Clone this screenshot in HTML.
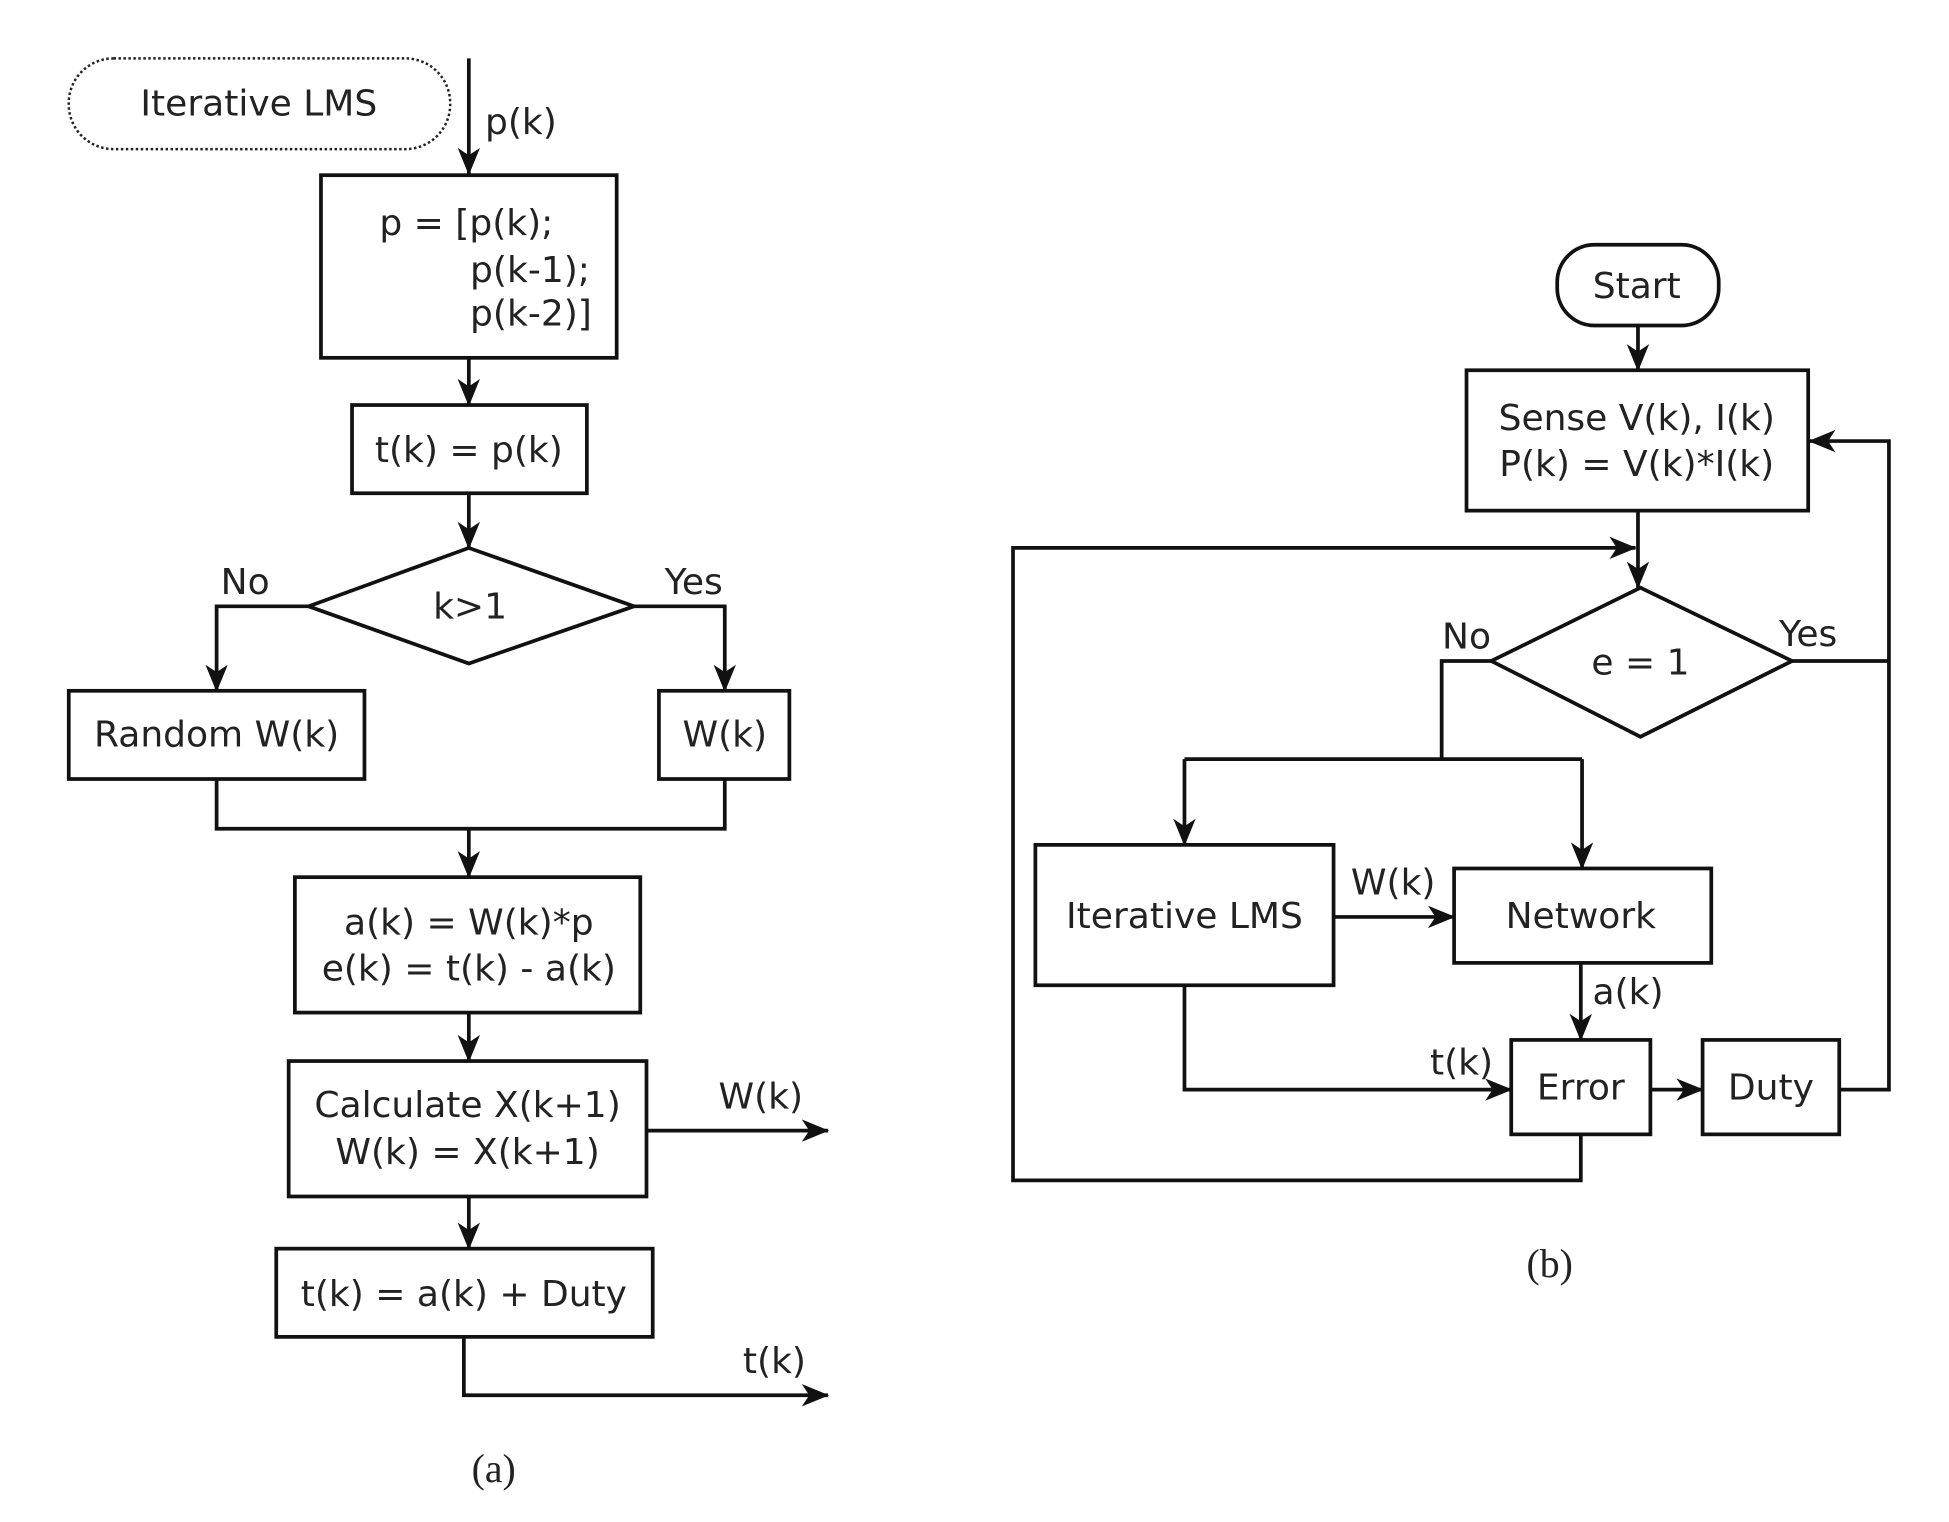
<!DOCTYPE html>
<html><head><meta charset="utf-8"><style>html,body{margin:0;padding:0;background:#fff}svg{display:block}</style></head>
<body>
<svg width="1949" height="1522" viewBox="0 0 1568 1225" xmlns="http://www.w3.org/2000/svg">
<defs>
<marker id="a" markerWidth="22" markerHeight="20" refX="21" refY="10" orient="auto" markerUnits="userSpaceOnUse" viewBox="0 0 22 20">
<path d="M0,1 L22,10 L0,19 L6,10 Z" fill="#111"/>
</marker>
</defs>
<style>
.l{stroke:#111;stroke-width:3;fill:none}
.b{stroke:#111;stroke-width:3;fill:#fff}
text{font-family:"DejaVu Sans","Liberation Sans",sans-serif;font-size:29px;fill:#222}
.c{text-anchor:middle}
.s{font-family:"Liberation Serif",serif;font-size:32px}
</style>
<!-- LEFT -->
<rect x="55" y="47" width="307" height="73" rx="36" ry="36" fill="#fff" stroke="#222" stroke-width="2" stroke-dasharray="2,2"/>
<text class="c" x="208" y="93">Iterative LMS</text>
<line class="l" x1="377" y1="47" x2="377" y2="140" marker-end="url(#a)"/>
<text x="390" y="108">p(k)</text>
<rect class="b" x="258" y="141" width="238" height="147"/>
<text x="305" y="189">p = [p(k);</text>
<text x="378" y="227">p(k-1);</text>
<text x="378" y="262">p(k-2)]</text>
<line class="l" x1="377" y1="288" x2="377" y2="326" marker-end="url(#a)"/>
<rect class="b" x="283" y="326" width="189" height="71"/>
<text class="c" x="377" y="372">t(k) = p(k)</text>
<line class="l" x1="377" y1="397" x2="377" y2="441" marker-end="url(#a)"/>
<polygon class="b" points="248,488 377,441 510,488 377,534"/>
<text class="c" x="378" y="498">k&gt;1</text>
<polyline class="l" points="248,488 174,488 174,556" marker-end="url(#a)"/>
<polyline class="l" points="510,488 583,488 583,556" marker-end="url(#a)"/>
<text class="c" x="197" y="478">No</text>
<text class="c" x="558" y="478">Yes</text>
<rect class="b" x="55" y="556" width="238" height="71"/>
<text class="c" x="174" y="601">Random W(k)</text>
<rect class="b" x="530" y="556" width="105" height="71"/>
<text class="c" x="583" y="601">W(k)</text>
<polyline class="l" points="174,627 174,667 583,667 583,627"/>
<line class="l" x1="377" y1="667" x2="377" y2="706" marker-end="url(#a)"/>
<rect class="b" x="237" y="706" width="278" height="109"/>
<text class="c" x="377" y="752">a(k) = W(k)*p</text>
<text class="c" x="377" y="789">e(k) = t(k) - a(k)</text>
<line class="l" x1="377" y1="815" x2="377" y2="854" marker-end="url(#a)"/>
<rect class="b" x="232" y="854" width="288" height="109"/>
<text class="c" x="376" y="899">Calculate X(k+1)</text>
<text class="c" x="376" y="937">W(k) = X(k+1)</text>
<line class="l" x1="520" y1="910" x2="666" y2="910" marker-end="url(#a)"/>
<text class="c" x="612" y="892">W(k)</text>
<line class="l" x1="377" y1="963" x2="377" y2="1005" marker-end="url(#a)"/>
<rect class="b" x="222" y="1005" width="303" height="71"/>
<text class="c" x="373" y="1051">t(k) = a(k) + Duty</text>
<polyline class="l" points="373,1076 373,1123 666,1123" marker-end="url(#a)"/>
<text class="c" x="623" y="1105">t(k)</text>
<text class="c s" x="397" y="1193">(a)</text>

<!-- RIGHT -->
<rect class="b" x="1253" y="197" width="130" height="65" rx="30" ry="30"/>
<text class="c" x="1317" y="240">Start</text>
<line class="l" x1="1318" y1="262" x2="1318" y2="298" marker-end="url(#a)"/>
<rect class="b" x="1180" y="298" width="275" height="113"/>
<text class="c" x="1317" y="346">Sense V(k), I(k)</text>
<text class="c" x="1317" y="383">P(k) = V(k)*I(k)</text>
<line class="l" x1="1318" y1="411" x2="1318" y2="473" marker-end="url(#a)"/>
<polyline class="l" points="1272,913 1272,950 815,950 815,441 1316,441" marker-end="url(#a)"/>
<polygon class="b" points="1200,532 1320,473 1442,532 1320,593"/>
<text class="c" x="1320" y="543">e = 1</text>
<text class="c" x="1180" y="522">No</text>
<text class="c" x="1455" y="520">Yes</text>
<polyline class="l" points="1200,532 1160,532 1160,611"/>
<line class="l" x1="953" y1="611" x2="1273" y2="611"/>
<line class="l" x1="953" y1="611" x2="953" y2="680" marker-end="url(#a)"/>
<line class="l" x1="1273" y1="611" x2="1273" y2="699" marker-end="url(#a)"/>
<polyline class="l" points="1442,532 1520,532"/>
<polyline class="l" points="1480,877 1520,877 1520,355 1456,355" marker-end="url(#a)"/>
<rect class="b" x="833" y="680" width="240" height="113"/>
<text class="c" x="953" y="747">Iterative LMS</text>
<line class="l" x1="1073" y1="738" x2="1170" y2="738" marker-end="url(#a)"/>
<text class="c" x="1121" y="720">W(k)</text>
<rect class="b" x="1170" y="699" width="207" height="76"/>
<text class="c" x="1272" y="747">Network</text>
<line class="l" x1="1272" y1="775" x2="1272" y2="837" marker-end="url(#a)"/>
<text class="c" x="1310" y="808">a(k)</text>
<rect class="b" x="1216" y="837" width="112" height="76"/>
<text class="c" x="1272" y="885">Error</text>
<polyline class="l" points="953,793 953,877 1216,877" marker-end="url(#a)"/>
<text class="c" x="1176" y="865">t(k)</text>
<line class="l" x1="1328" y1="877" x2="1370" y2="877" marker-end="url(#a)"/>
<rect class="b" x="1370" y="837" width="110" height="76"/>
<text class="c" x="1425" y="885">Duty</text>
<text class="c s" x="1247" y="1028">(b)</text>
</svg>
</body></html>
